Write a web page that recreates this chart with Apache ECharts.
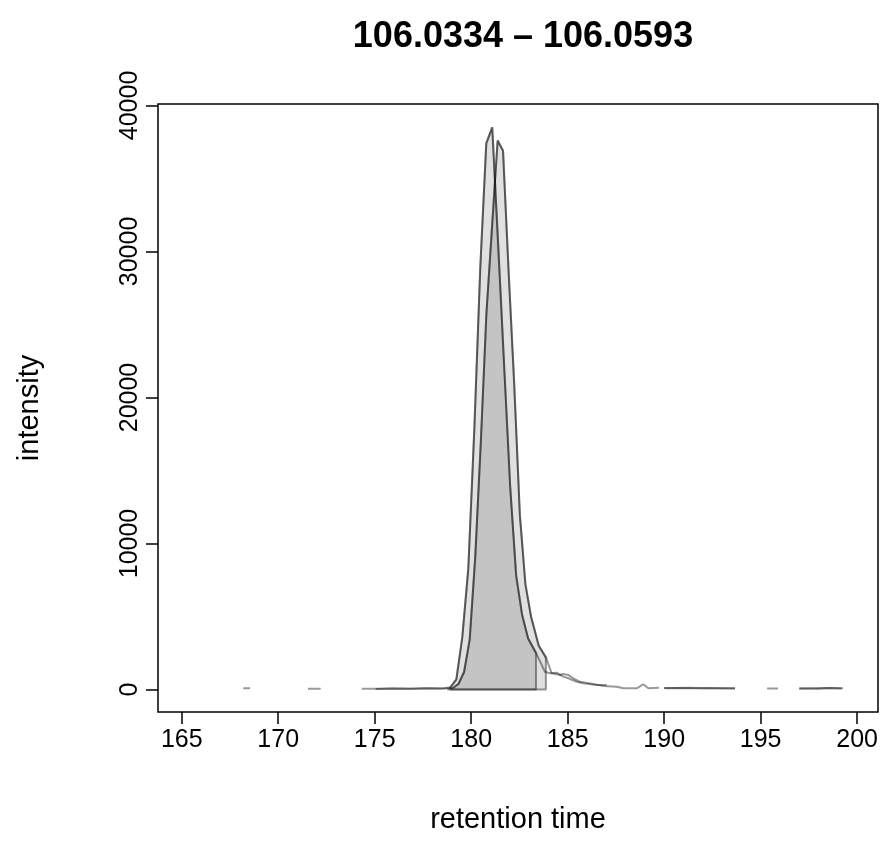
<!DOCTYPE html>
<html>
<head>
<meta charset="utf-8">
<script src="https://cdn.jsdelivr.net/npm/echarts@6/dist/echarts.min.js"></script>
<style>
html,body{margin:0;padding:0;background:#fff;}
#chart{width:888px;height:860px;}
</style>
</head>
<body>
<div id="chart"></div>
<script>
// ---- data (null intensity = missing value, breaks the line) ----
const rtA  = [168.19,168.54,169.0,175.05,175.9,176.8,177.6,178.3,178.62,178.92,179.23,179.54,179.85,180.16,180.47,180.78,181.09,181.40,181.71,182.02,182.33,182.64,182.95,183.36,183.82,184.08,184.43,184.77,185.03,185.47,185.81,186.50,187.02,187.5,190.0,190.6,191.3,192.0,192.8,193.67,194.0,197.0,197.7,198.4,199.26];
const intA = [90,80,null,40,70,60,80,70,90,150,700,3600,8300,17800,28900,37400,38500,30400,22100,13900,7800,5100,3500,2500,1220,1110,1150,880,770,530,420,310,310,null,100,100,120,90,80,70,null,60,90,110,80];
const rtB  = [171.54,172.2,173.0,174.33,175.2,176.0,177.0,177.9,178.47,178.76,179.05,179.34,179.63,179.92,180.21,180.50,180.79,181.08,181.37,181.65,181.94,182.23,182.52,182.81,183.10,183.50,183.87,184.17,184.60,184.77,185.04,185.29,185.64,186.16,186.85,187.54,187.88,188.58,188.92,189.18,189.73,189.9,190.0,190.7,191.5,192.3,193.0,193.67,194.0,195.33,195.9,196.5,197.0,197.9,198.6,199.2];
const intB = [50,60,null,60,50,70,60,80,70,90,100,380,1200,3400,9100,17000,25800,31700,37600,36900,28600,20900,12000,7200,5000,3000,2200,1110,990,1060,990,770,530,420,240,190,80,80,360,80,120,null,90,110,80,100,90,80,null,70,70,null,80,60,100,70];
const peakA = [178.9, 183.4];   // rtmin, rtmax of integrated peak
const peakB = [178.7, 183.9];
const xTicks = [165,170,175,180,185,190,195,200];
const yTicks = [0,10000,20000,30000,40000];
const titleText = "106.0334 \u2013 106.0593";
const xName = "retention time";
const yName = "intensity";

// ---- build ----
function chromData(rt, ints){
  return rt.map((t,i)=> [t, ints[i]===null ? '-' : ints[i]]);
}
function peakPoly(rt, ints, range){
  const pts = [];
  rt.forEach((t,i)=>{ if(ints[i]!==null && t>=range[0] && t<=range[1]) pts.push([t, ints[i]]); });
  const first = pts[0][0], last = pts[pts.length-1][0];
  return [[first,0]].concat(pts, [[last,0],[first,0]]);
}
const lineCol = 'rgba(0,0,0,0.4)';
const fillCol = 'rgba(0,0,0,0.12)';
const font = '"Liberation Sans", Arial, Helvetica, sans-serif';

const chart = echarts.init(document.getElementById('chart'), null, {renderer:'canvas'});
chart.setOption({
  animation:false,
  backgroundColor:'#fff',
  title:{text:titleText,left:518,top:14,textAlign:'center',
    textStyle:{fontFamily:font,fontSize:36,fontWeight:'bold',color:'#000'}},
  grid:{left:158,right:10,top:104,bottom:148,show:true,borderColor:'#000',borderWidth:1.5,backgroundColor:'transparent'},
  xAxis:{type:'value',min:163.77,max:201.08,
    name:xName,nameLocation:'middle',nameGap:93,
    nameTextStyle:{fontFamily:font,fontSize:29,color:'#000'},
    axisLine:{show:false,onZero:false},splitLine:{show:false},
    axisTick:{show:true,inside:false,length:12,lineStyle:{color:'#000',width:1.5},customValues:xTicks},
    axisLabel:{show:true,margin:16,fontFamily:font,fontSize:25,color:'#000',customValues:xTicks}},
  yAxis:{type:'value',min:-1540,max:40100,
    name:yName,nameLocation:'middle',nameGap:114,nameRotate:90,
    nameTextStyle:{fontFamily:font,fontSize:29,color:'#000'},
    axisLine:{show:false,onZero:false},splitLine:{show:false},
    axisTick:{show:true,inside:false,length:12,lineStyle:{color:'#000',width:1.5},customValues:yTicks},
    axisLabel:{show:true,rotate:90,margin:15,fontFamily:font,fontSize:25,color:'#000',customValues:yTicks,
      formatter:v=>String(v)}},
  series:[
    {type:'line',data:chromData(rtA,intA),showSymbol:false,connectNulls:false,
      lineStyle:{color:lineCol,width:2},z:2},
    {type:'line',data:chromData(rtB,intB),showSymbol:false,connectNulls:false,
      lineStyle:{color:lineCol,width:2},z:2},
    {type:'line',data:peakPoly(rtA,intA,peakA),showSymbol:false,
      lineStyle:{color:lineCol,width:2},areaStyle:{color:fillCol,opacity:1,origin:0},z:3},
    {type:'line',data:peakPoly(rtB,intB,peakB),showSymbol:false,
      lineStyle:{color:lineCol,width:2},areaStyle:{color:fillCol,opacity:1,origin:0},z:3}
  ]
});
</script>
</body>
</html>
